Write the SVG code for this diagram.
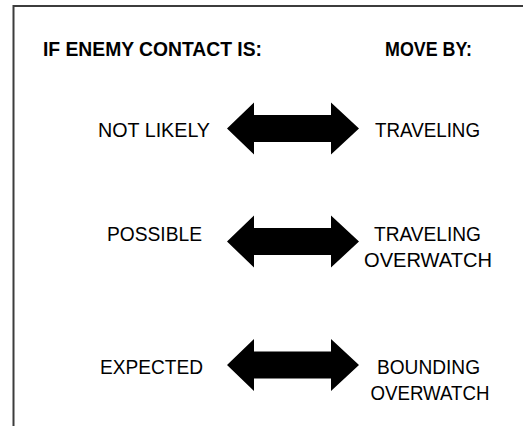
<svg xmlns="http://www.w3.org/2000/svg" xmlns:xlink="http://www.w3.org/1999/xlink" width="523" height="426" viewBox="0 0 523 426">
<style>
.frame{stroke:#3c3c3c;stroke-width:2;fill:none}
.hdr{font-family:"Liberation Sans",Arial,sans-serif;font-weight:bold;font-size:20px;fill:#000}
.lbl{font-family:"Liberation Sans",Arial,sans-serif;font-size:20.5px;fill:#000;text-anchor:middle}
.arr{fill:#000}
</style>
<defs>
<path id="dblarrow" class="arr" d="M227,0 L254,-26 L254,-13.5 L331,-13.5 L331,-26 L359,0 L331,26 L331,13.5 L254,13.5 L254,26 Z"/>
</defs>
<rect width="523" height="426" fill="#fff"/>
<g id="frame">
<path class="frame" d="M13.5,426 L13.5,6 L523,6"/>
</g>
<g id="header-left"><text class="hdr" x="43" y="56" textLength="219" lengthAdjust="spacingAndGlyphs">IF ENEMY CONTACT IS:</text></g>
<g id="header-right"><text class="hdr" x="385" y="56" textLength="87" lengthAdjust="spacingAndGlyphs">MOVE BY:</text></g>
<g id="not-likely"><text class="lbl" x="154" y="137" textLength="112" lengthAdjust="spacingAndGlyphs">NOT LIKELY</text></g>
<g id="traveling"><text class="lbl" x="427.5" y="137" textLength="105" lengthAdjust="spacingAndGlyphs">TRAVELING</text></g>
<g id="possible"><text class="lbl" x="154.5" y="241" textLength="95" lengthAdjust="spacingAndGlyphs">POSSIBLE</text></g>
<g id="traveling-overwatch"><text class="lbl" y="241"><tspan x="427.5" textLength="107" lengthAdjust="spacingAndGlyphs">TRAVELING</tspan><tspan x="428" y="267" textLength="128" lengthAdjust="spacingAndGlyphs">OVERWATCH</tspan></text></g>
<g id="expected"><text class="lbl" x="151.5" y="374" textLength="103" lengthAdjust="spacingAndGlyphs">EXPECTED</text></g>
<g id="bounding-overwatch"><text class="lbl" y="374"><tspan x="428.5" textLength="103" lengthAdjust="spacingAndGlyphs">BOUNDING</tspan><tspan x="430" y="400" textLength="119" lengthAdjust="spacingAndGlyphs">OVERWATCH</tspan></text></g>
<g id="connectors">
<use xlink:href="#dblarrow" transform="translate(0,128.5)"/>
<use xlink:href="#dblarrow" transform="translate(0,241.5)"/>
<use xlink:href="#dblarrow" transform="translate(0,365)"/>
</g>
</svg>
